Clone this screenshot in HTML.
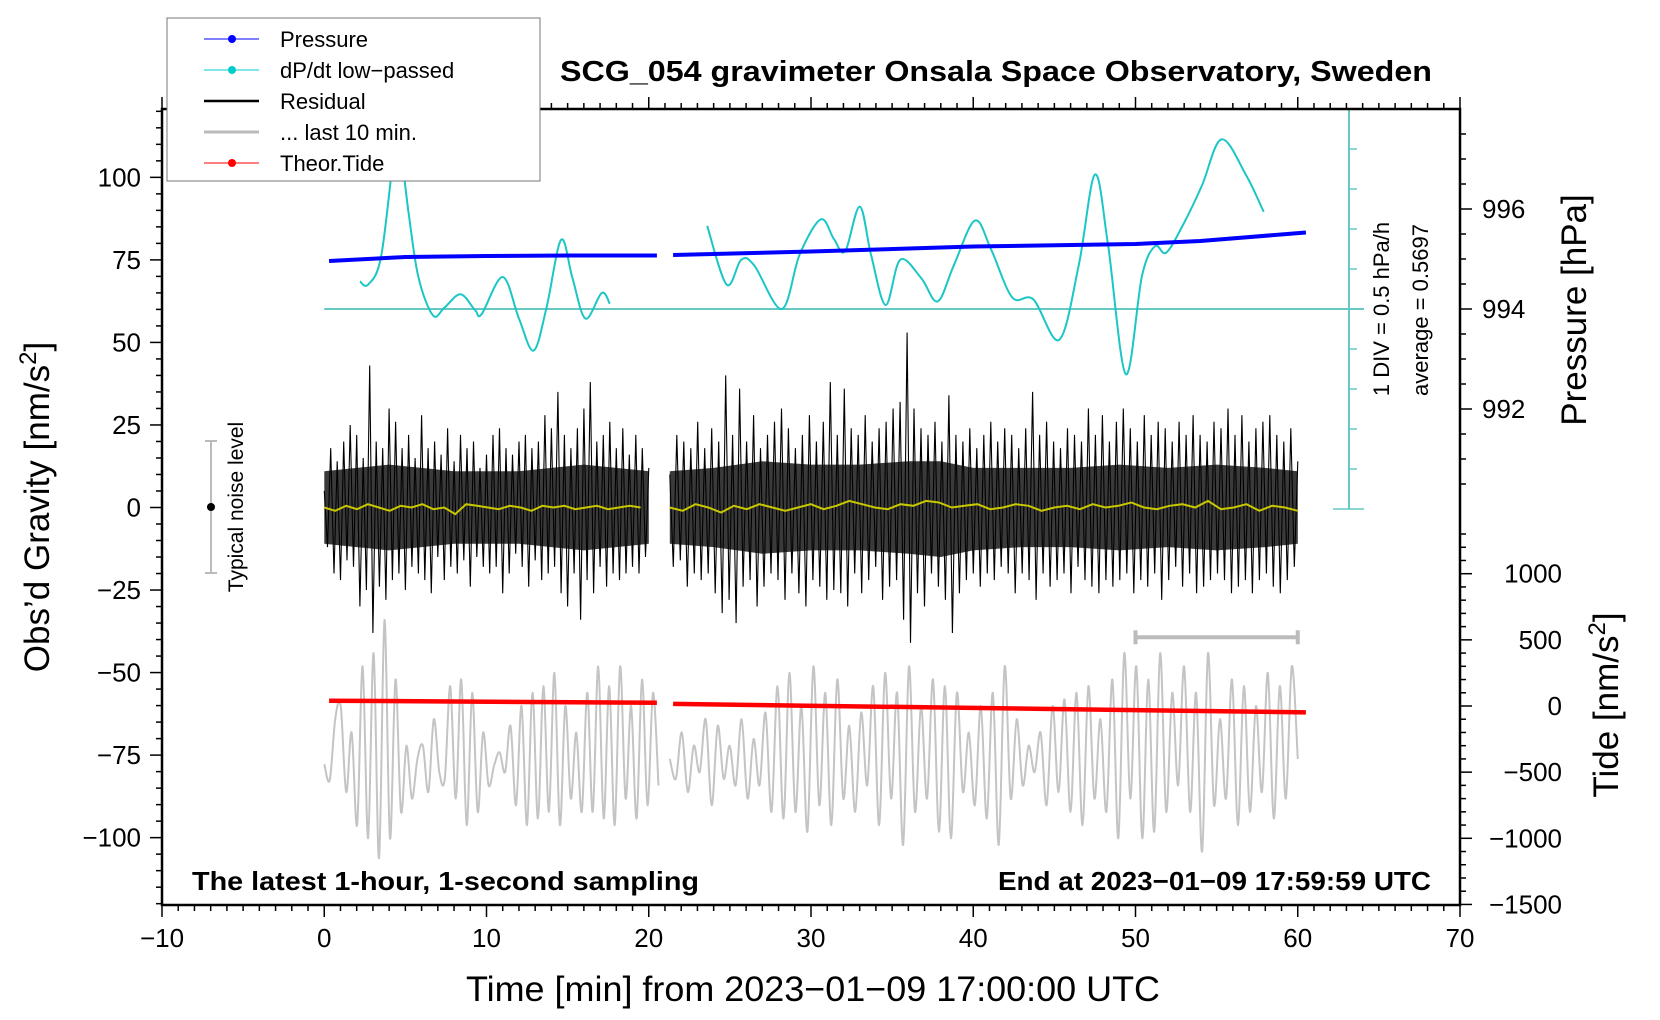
<!DOCTYPE html>
<html><head><meta charset="utf-8"><style>
html,body{margin:0;padding:0;background:#fff}
svg{display:block;font-family:"Liberation Sans",sans-serif}
</style></head><body>
<svg id="chart" width="1660" height="1020" viewBox="0 0 1660 1020" xmlns="http://www.w3.org/2000/svg">
<rect x="0" y="0" width="1660" height="1020" fill="#fff"/>
<g id="plot"></g>
<g id="axes"></g>
<text x="996" y="81" text-anchor="middle" font-size="29" font-weight="bold" textLength="872" lengthAdjust="spacingAndGlyphs">SCG_054 gravimeter Onsala Space Observatory, Sweden</text>
<text x="813" y="1001" text-anchor="middle" font-size="35" textLength="694" lengthAdjust="spacingAndGlyphs">Time [min] from 2023−01−09 17:00:00 UTC</text>
<text transform="translate(49,507) rotate(-90)" text-anchor="middle" font-size="35">Obs’d Gravity [nm/s<tspan baseline-shift="super" font-size="24">2</tspan>]</text>
<text transform="translate(1586,310) rotate(-90)" text-anchor="middle" font-size="35">Pressure [hPa]</text>
<text transform="translate(1618,705) rotate(-90)" text-anchor="middle" font-size="35">Tide [nm/s<tspan baseline-shift="super" font-size="24">2</tspan>]</text>
<text x="192" y="890" font-size="26" font-weight="bold" textLength="507" lengthAdjust="spacingAndGlyphs">The latest 1-hour, 1-second sampling</text>
<text x="1431" y="890" text-anchor="end" font-size="26" font-weight="bold" textLength="433" lengthAdjust="spacingAndGlyphs">End at 2023−01−09 17:59:59 UTC</text>
<text transform="translate(1389,309) rotate(-90)" text-anchor="middle" font-size="22">1 DIV = 0.5 hPa/h</text>
<text transform="translate(1428,310) rotate(-90)" text-anchor="middle" font-size="22">average = 0.5697</text>
<g>
<line x1="211" y1="441" x2="211" y2="573" stroke="#bbb" stroke-width="2"/>
<line x1="205" y1="441" x2="217" y2="441" stroke="#bbb" stroke-width="2"/>
<line x1="205" y1="573" x2="217" y2="573" stroke="#bbb" stroke-width="2"/>
<circle cx="211" cy="507" r="4" fill="#000"/>
<text transform="translate(243,507) rotate(-90)" text-anchor="middle" font-size="21">Typical noise level</text>
</g>
<g>
<rect x="167" y="18" width="373" height="163" fill="#fff" stroke="#777" stroke-width="1"/>
<g><line x1="204" y1="39" x2="259" y2="39" stroke="#00f" stroke-width="1"/><circle cx="232" cy="39" r="4" fill="#00f"/><text x="280" y="47" font-size="22">Pressure</text></g>
<g><line x1="204" y1="70" x2="259" y2="70" stroke="#0cc" stroke-width="1"/><circle cx="232" cy="70" r="4" fill="#0cc"/><text x="280" y="78" font-size="22">dP/dt low−passed</text></g>
<g><line x1="204" y1="101" x2="259" y2="101" stroke="#000" stroke-width="2.5"/><text x="280" y="109" font-size="22">Residual</text></g>
<g><line x1="204" y1="132" x2="259" y2="132" stroke="#bbb" stroke-width="3"/><text x="280" y="140" font-size="22">... last 10 min.</text></g>
<g><line x1="204" y1="163" x2="259" y2="163" stroke="#f00" stroke-width="1"/><circle cx="232" cy="163" r="4" fill="#f00"/><text x="280" y="171" font-size="22">Theor.Tide</text></g>
</g>
</svg>
<script>
// ---- data ----
const xTicks=[-10,0,10,20,30,40,50,60,70];
const yTicks=[-100,-75,-50,-25,0,25,50,75,100];
const pTicks=[992,994,996];
const tideTicks=[-1500,-1000,-500,0,500,1000];
const dpTime1=[2.2,2.7,3.5,4.3,4.6,5.2,5.8,6.7,7.4,8.4,9.3,9.7,11.0,12.0,12.9,13.7,14.6,15.3,16.1,17.1,17.6];
const dpVal1=[0.69,0.61,1.3,3.9,4.3,2.4,0.8,-0.16,0.03,0.37,-0.03,-0.13,0.8,-0.24,-1.04,0.03,1.73,0.77,-0.24,0.4,0.13];
const dpTime2=[23.6,24.8,25.7,26.5,28.2,29.3,30.6,31.4,32.1,33.0,33.7,34.6,35.5,36.8,37.8,38.8,40.1,41.1,42.4,43.7,45.3,46.5,47.5,48.3,49.4,50.4,51.2,51.9,53.0,54.1,55.3,56.8,57.9];
const dpVal2=[2.08,0.61,1.23,1.09,0.0,1.36,2.24,1.76,1.44,2.56,1.36,0.1,1.23,0.77,0.19,1.09,2.21,1.49,0.29,0.24,-0.77,1.09,3.36,1.63,-1.63,0.83,1.57,1.41,2.16,3.09,4.24,3.36,2.43];
const pTime1=[0.3,5,10,15,20.5];
const pVal1=[994.96,995.04,995.06,995.07,995.07];
const pTime2=[21.5,30,40,50,54,60.5];
const pVal2=[995.08,995.15,995.25,995.30,995.36,995.53];
const tideTime1=[0.3,20.5];
const tideVal1=[40,24];
const tideTime2=[21.5,60.5];
const tideVal2=[16,-48];
const resSpan1=[0.0,20.0];
const res1=[5,-12,18,-20,14,-22,20,-16,25,-18,22,-30,15,-25,43,-38,20,-24,18,-28,30,-22,26,-20,18,-25,22,-18,15,-20,28,-22,18,-26,20,-15,16,-22,24,-18,14,-20,22,-16,18,-24,20,-15,12,-18,16,-20,22,-18,24,-26,18,-20,16,-14,20,-18,22,-24,18,-16,20,-22,28,-20,24,-18,35,-26,22,-30,18,-20,24,-34,30,-22,38,-26,20,-18,22,-24,26,-20,18,-22,24,-20,16,-18,22,-20,18,-15,12];
const resSpan2=[21.3,60.0];
const res2=[10,-18,22,-16,20,-24,18,-20,26,-22,18,-20,24,-26,20,-32,40,-28,22,-35,36,-24,20,-22,28,-30,18,-24,22,-20,26,-22,30,-28,24,-20,18,-26,22,-30,28,-22,20,-24,26,-28,38,-25,22,-26,36,-30,24,-20,22,-26,28,-22,20,-18,24,-28,26,-24,30,-22,32,-34,53,-41,30,-26,24,-30,22,-20,26,-24,20,-28,34,-38,22,-26,20,-22,24,-20,18,-24,22,-20,26,-22,20,-18,24,-20,22,-26,18,-20,24,-22,35,-28,22,-20,26,-24,20,-22,18,-20,24,-26,22,-18,20,-22,30,-24,22,-26,28,-22,20,-24,26,-22,30,-20,24,-26,20,-22,28,-24,22,-20,26,-28,24,-22,20,-18,26,-24,22,-20,28,-26,22,-24,20,-22,26,-20,24,-22,30,-26,22,-24,28,-22,20,-26,24,-22,26,-20,28,-24,22,-26,20,-22,24,-18,14];
const coreTime1=[0.0,2,4,6,8,10,12,14,16,18,20.0];
const coreHi1=[11,12,13,12,11,11,11,12,13,12,11];
const coreLo1=[-11,-12,-13,-12,-11,-11,-11,-12,-13,-12,-11];
const coreTime2=[21.3,24,27,30,33,36,38,40,43,46,49,52,55,58,60.0];
const coreHi2=[11,12,14,13,13,14,14,12,12,12,13,12,13,12,11];
const coreLo2=[-11,-12,-14,-13,-13,-14,-15,-13,-12,-12,-13,-12,-13,-12,-11];
const yelSpan1=[0.0,19.5];
const yel1=[0,-1,0.5,-0.5,1,0,-1,0.5,0,1,-0.5,0,-2,1,0.5,0,-0.5,0.5,0,-1,0.5,0,0.5,-0.5,0,0.5,-0.5,0,0.5,0];
const yelSpan2=[21.3,60.0];
const yel2=[0,-1,1,0,-1.5,0.5,-0.5,1,0,-1,0,1,-0.5,0.5,2,1,0,-0.5,1,0.5,2,1.5,0,0.5,1,-0.5,0,1,0.5,-1,0,0.5,-0.5,1,0,0.5,1.5,0,-0.5,0.5,1,0,2,-0.5,0,1,-1,0.5,0,-1];
const graySpan1=[0.0,20.6];
const gray1=[-440,-560,-100,0,-650,-200,-900,300,-1000,400,-1150,650,-1000,200,-800,-300,-700,-400,-300,-650,-100,-500,-550,150,-700,200,-900,100,-800,-200,-600,-450,-350,-500,-150,-750,0,-900,100,-850,150,-800,250,-900,0,-700,-200,-800,100,-800,300,-850,150,-900,300,-700,0,-850,200,-750,100,-600];
const graySpan2=[21.3,60.0];
const gray2=[-400,-550,-200,-650,-300,-500,-100,-750,-150,-550,-300,-600,-100,-700,-250,-600,-50,-800,150,-850,250,-800,0,-950,300,-750,100,-900,200,-700,-150,-800,-50,-600,150,-900,250,-700,100,-1050,300,-800,0,-700,200,-950,150,-1000,100,-650,-200,-750,0,-850,100,-1050,300,-700,-100,-600,-300,-500,-200,-750,0,-650,50,-800,100,-900,150,-700,-100,-800,200,-1000,400,-700,300,-1000,200,-950,400,-800,100,-600,300,-800,100,-1100,400,-750,-100,-700,200,-900,150,-800,0,-650,250,-850,150,-700,300,-400];
const lastTenSpan=[50,60];
const lastTenLevel=520;

// ---- scales ----
const LEFT=162,RIGHT=1460,TOP=109,BOTTOM=905;
const X=m=>LEFT+(m+10)*(RIGHT-LEFT)/80;
const YL=v=>507.5-v*3.3015;
const YP=p=>309-(p-994)*50;
const YT=t=>706-t*0.1323;
const YD=d=>309-d*40;
const NS='http://www.w3.org/2000/svg';
const plot=document.getElementById('plot');
const axes=document.getElementById('axes');
function mk(tag,parent){const e=document.createElementNS(NS,tag);parent.appendChild(e);return e;}
function linePath(xs,ys){return xs.map((x,i)=>(i?'L':'M')+x.toFixed(1)+','+ys[i].toFixed(1)).join('');}
function smoothPath(xs,ys){let d='M'+xs[0].toFixed(1)+','+ys[0].toFixed(1);
 for(let i=0;i<xs.length-1;i++){const x0=xs[Math.max(i-1,0)],y0=ys[Math.max(i-1,0)],x1=xs[i],y1=ys[i],x2=xs[i+1],y2=ys[i+1],x3=xs[Math.min(i+2,xs.length-1)],y3=ys[Math.min(i+2,xs.length-1)];
 d+='C'+(x1+(x2-x0)/6).toFixed(1)+','+(y1+(y2-y0)/6).toFixed(1)+' '+(x2-(x3-x1)/6).toFixed(1)+','+(y2-(y3-y1)/6).toFixed(1)+' '+x2.toFixed(1)+','+y2.toFixed(1);}
 return d;}
function spanXs(span,n){return Array.from({length:n},(_,i)=>X(span[0]+i*(span[1]-span[0])/(n-1)));}

let e=mk('line',plot);


e.setAttribute('x1',X(0));e.setAttribute('x2',1364);e.setAttribute('y1',YD(0));e.setAttribute('y2',YD(0));e.setAttribute('stroke','#66c8c4');e.setAttribute('stroke-width','2');
e=mk('line',plot);


e.setAttribute('x1',1349);e.setAttribute('x2',1349);e.setAttribute('y1',YD(5));e.setAttribute('y2',YD(-5));e.setAttribute('stroke','#66c8c4');e.setAttribute('stroke-width','2');
for(let d=-5;d<=5;d++){const t=mk('line',plot);
 
 
 const w=(d===-5)?[1333,1364]:[1349,1357];
 t.setAttribute('x1',w[0]);t.setAttribute('x2',w[1]);t.setAttribute('y1',YD(d));t.setAttribute('y2',YD(d));t.setAttribute('stroke','#66c8c4');t.setAttribute('stroke-width','1.5');}

[[graySpan1,gray1],[graySpan2,gray2]].forEach(([s,v])=>{const p=mk('path',plot);
 
 
 p.setAttribute('d',smoothPath(spanXs(s,v.length),v.map(YT)));p.setAttribute('fill','none');p.setAttribute('stroke','#c4c4c4');p.setAttribute('stroke-width','2');});
e=mk('path',plot);


{const y=YT(lastTenLevel),a=X(lastTenSpan[0]),b=X(lastTenSpan[1]);
e.setAttribute('d',`M${a},${y}H${b}M${a},${y-7}V${y+7}M${b},${y-7}V${y+7}`);}
e.setAttribute('stroke','#bbb');e.setAttribute('stroke-width','4');e.setAttribute('fill','none');

[[coreTime1,coreHi1,coreLo1],[coreTime2,coreHi2,coreLo2]].forEach(([t,hi,lo])=>{const p=mk('path',plot);
 
 
 const xs=t.map(X);
 const d=linePath(xs,hi.map(YL))+linePath(xs.slice().reverse(),lo.slice().reverse().map(YL)).replace('M','L')+'Z';
 p.setAttribute('d',d);p.setAttribute('fill','#3a3a3a');});
[[resSpan1,res1],[resSpan2,res2]].forEach(([s,v])=>{const p=mk('path',plot);
 
 
 p.setAttribute('d',linePath(spanXs(s,v.length),v.map(YL)));p.setAttribute('fill','none');p.setAttribute('stroke','#000');p.setAttribute('stroke-width','1.1');});
[[yelSpan1,yel1],[yelSpan2,yel2]].forEach(([s,v])=>{const p=mk('path',plot);
 
 
 p.setAttribute('d',linePath(spanXs(s,v.length),v.map(YL)));p.setAttribute('fill','none');p.setAttribute('stroke','#c8c800');p.setAttribute('stroke-width','2');});

[[tideTime1,tideVal1],[tideTime2,tideVal2]].forEach(([t,v])=>{const p=mk('path',plot);
 
 
 p.setAttribute('d',linePath(t.map(X),v.map(YT)));p.setAttribute('fill','none');p.setAttribute('stroke','#f00');p.setAttribute('stroke-width','4.5');});

[[dpTime1,dpVal1],[dpTime2,dpVal2]].forEach(([t,v])=>{const p=mk('path',plot);
 
 
 p.setAttribute('d',smoothPath(t.map(X),v.map(YD)));p.setAttribute('fill','none');p.setAttribute('stroke','#1cc6c6');p.setAttribute('stroke-width','2');});

[[pTime1,pVal1],[pTime2,pVal2]].forEach(([t,v])=>{const p=mk('path',plot);
 
 
 p.setAttribute('d',linePath(t.map(X),v.map(YP)));p.setAttribute('fill','none');p.setAttribute('stroke','#00f');p.setAttribute('stroke-width','4');});

e=mk('rect',axes);


e.setAttribute('x',LEFT);e.setAttribute('y',TOP);e.setAttribute('width',RIGHT-LEFT);e.setAttribute('height',BOTTOM-TOP);e.setAttribute('fill','none');e.setAttribute('stroke','#000');e.setAttribute('stroke-width','2.5');
function tick(x1,y1,x2,y2,w){const t=mk('line',axes);
 
 
 t.setAttribute('x1',x1);t.setAttribute('y1',y1);t.setAttribute('x2',x2);t.setAttribute('y2',y2);t.setAttribute('stroke','#000');t.setAttribute('stroke-width',w||1.5);}
function label(txt,x,y,anchor,name){const t=mk('text',axes);
 
 
 t.setAttribute('x',x);t.setAttribute('y',y);t.setAttribute('text-anchor',anchor);t.setAttribute('font-size','26');t.textContent=txt;}
for(let m=-10;m<=70;m++){const big=m%10===0;tick(X(m),BOTTOM,X(m),BOTTOM+(big?12:6));tick(X(m),TOP,X(m),TOP-(big?12:6));}
xTicks.forEach(v=>label(String(v).replace('-','−'),X(v),947,'middle','x-tick-label'));
for(let v=-120;v<=120;v+=5){const big=v%25===0;tick(LEFT,YL(v),LEFT-(big?12:6),YL(v));}
yTicks.forEach(v=>label(String(v).replace('-','−'),141,YL(v)+9,'end','y-tick-label'));
for(let p=990.5;p<=997.9;p+=0.5){const big=Math.abs(p%2)<0.01;const y=YP(p);if(y<TOP||y>495)continue;tick(RIGHT,y,RIGHT+(big?12:6),y);}
pTicks.forEach(v=>label(String(v),1482,YP(v)+9,'start','pressure-tick-label'));
for(let t=-1500;t<=1300;t+=100){const big=t%500===0;tick(RIGHT,YT(t),RIGHT+(big?12:6),YT(t));}
tideTicks.forEach(v=>label(String(v).replace('-','−'),1562,YT(v)+9,'end','tide-tick-label'));
</script>
</body></html>
